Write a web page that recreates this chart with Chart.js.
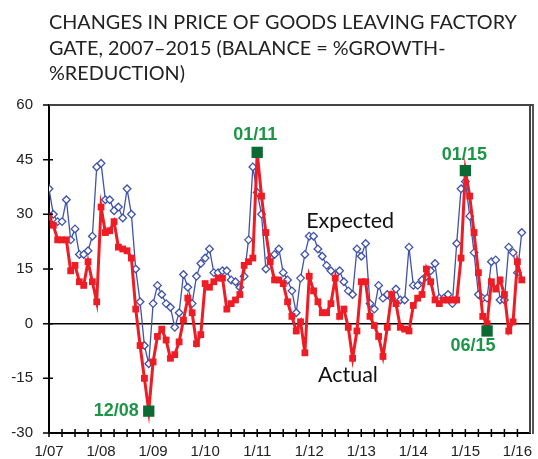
<!DOCTYPE html>
<html>
<head>
<meta charset="utf-8">
<script src="https://cdn.jsdelivr.net/npm/chart.js@4.4.1/dist/chart.umd.min.js"></script>
<style>
  html, body { margin: 0; padding: 0; background: #fff; }
  #wrap { width: 538px; height: 459px; position: relative; }
  #frame {
    position: absolute; left: 49px; top: 104px; width: 485px; height: 330px;
    box-sizing: border-box; border-top: 2px solid #444; border-right: 2px solid #555;
    pointer-events: none;
  }
</style>
</head>
<body>
<div id="wrap"><canvas id="chart"></canvas><div id="frame"></div></div>
<script>
// yearly labels, one per January (month index 0, 12, 24 ...)
const tickLabels = ['1/07', '1/08', '1/09', '1/10', '1/11', '1/12', '1/13', '1/14', '1/15', '1/16'];

// monthly balances, Jan 2007 .. Feb 2016
const expected = [
  37, 30, 28, 28, 34, 23, 26, 19, 19, 20, 24, 43,
  44, 34, 34, 31, 32, 29, 37, 30, 15, 6, -6, -11,
  5.5, 10.5, 8, 5.5, 4.5, -1, 3, 13.5, 10, 5.5, 13, 16.5,
  18, 20.5, 14, 14, 14.5, 14.5, 12, 11.5, 10, 13, 23, 43,
  36, 30, 15, 18, 19, 20.5, 14, 12, 9, 3, 12.5, 19,
  24, 24, 20.5, 18.5, 16, 14.5, 13.5, 14.5, 11.5, 9, 8, 20.5,
  18.5, 22, 5.5, 4, 10.5, 7, 8, 7, 9.5, 6.5, 6.5, 21,
  10.5, 10.5, 12, 13, 14.5, 16.5, 7, 7, 8, 5.5, 22, 37,
  39, 29.5, 19.5, 8, 7, 7, 17, 17.5, 6.5, 6.5, 21, 19.5,
  14, 25
];
const actual = [
  29.5, 27, 23, 23, 23, 14.5, 16, 11.5, 10.5, 17, 11.5, 6,
  32, 25, 25.5, 28, 21, 20.5, 20, 18, 4, -6, -15, -24,
  -10.5, -3.5, -1.5, -4.5, -9.5, -8.5, -5, 1, 7, 3, -5.5, -3,
  11, 10, 11.5, 12.5, 12.5, 4, 5.5, 6.5, 8, 16, 17, 18,
  47, 35, 25, 17, 12, 12, 11, 6, 2, -2, 0.5, -8,
  13, 9, 6, 3, 3, 5.5, 12.5, 2, 4, -1, -9.5, -2,
  11.5, 11.5, 2, -0.5, -3.5, -9, -1, 8, 5.5, -1, -1.5, -2,
  5, 7, 8, 15, 11.5, 6.5, 5.5, 6.5, 6.5, 6.5, 6.5, 18,
  42, 35, 25, 14, 2, 0, 11.5, 9.5, 12, 8, -2, 0.5,
  17, 12
];

// highlighted months
const markerIdx = [23, 48, 96, 101];
const markerVals = [-24, 47, 42, -2];
const markerText = ['12/08', '01/11', '01/15', '06/15'];

const titleLines = [
  'CHANGES IN PRICE OF GOODS LEAVING FACTORY',
  'GATE, 2007\u20132015 (BALANCE = %GROWTH-',
  '%REDUCTION)'
];

const BLUE = '#3f52ac';
const RED = '#ee1c24';
const GREEN_BOX = '#0b6a31';
const GREEN_TXT = '#1c9646';
const FRAME = '#444';
const TEXT_FAMILY = 'Lato, "Open Sans", sans-serif';
const AXIS_FAMILY = '"Liberation Sans", Arial, sans-serif';

function fitSize(text, family, width) {
  const c = document.createElement('canvas').getContext('2d');
  c.font = '100px ' + family;
  return 100 * width / c.measureText(text).width;
}
const titleSize = fitSize(titleLines[0], TEXT_FAMILY, 468);
const noteSize = fitSize('Expected', TEXT_FAMILY, 88);

// label placement for the green markers
const markerLabelPos = [
  { dx: -10, dy: 0, align: 'right' },
  { dx: -2, dy: -17, align: 'center' },
  { dx: -1, dy: -16, align: 'center' },
  { dx: -14, dy: 15, align: 'center' }
];

// frame, crossing ticks, text notes and marker labels
const decorPlugin = {
  id: 'decor',
  afterDatasetsDraw(chart) {
    const c = chart.ctx;
    const a = chart.chartArea;
    const x = chart.scales.x;
    const y = chart.scales.y;
    c.save();

    c.strokeStyle = FRAME;
    c.lineWidth = 2;
    c.beginPath();
    c.moveTo(a.left, a.top);
    c.lineTo(a.right, a.top);
    c.lineTo(a.right, a.bottom);
    c.stroke();

    c.strokeStyle = '#000';
    c.lineWidth = 1.5;
    c.beginPath();
    y.ticks.forEach(t => {
      const py = y.getPixelForValue(t.value);
      c.moveTo(a.left - 6, py);
      c.lineTo(a.left + 4, py);
    });
    x.ticks.forEach(t => {
      const px = x.getPixelForValue(t.value);
      c.moveTo(px, a.bottom - 4);
      c.lineTo(px, a.bottom + 4);
    });
    c.stroke();

    c.fillStyle = '#111';
    c.font = noteSize + 'px ' + TEXT_FAMILY;
    c.textAlign = 'left';
    c.textBaseline = 'alphabetic';
    c.fillText('Expected', x.getPixelForValue(59.3), y.getPixelForValue(26.3));
    c.fillText('Actual', x.getPixelForValue(62), y.getPixelForValue(-16));

    c.fillStyle = GREEN_TXT;
    c.font = 'bold 18px ' + AXIS_FAMILY;
    c.textBaseline = 'middle';
    markerIdx.forEach((m, i) => {
      const p = markerLabelPos[i];
      c.textAlign = p.align;
      c.fillText(markerText[i], x.getPixelForValue(m) + p.dx, y.getPixelForValue(markerVals[i]) + p.dy);
    });
    c.restore();
  }
};

const ctx = document.getElementById('chart').getContext('2d');
new Chart(ctx, {
  type: 'line',
  data: {
    datasets: [
      {
        label: 'Markers',
        data: markerIdx.map((m, i) => ({ x: m, y: markerVals[i] })),
        showLine: false,
        pointStyle: 'rect',
        pointRadius: 8,
        pointBackgroundColor: GREEN_BOX,
        pointBorderColor: GREEN_BOX,
        pointBorderWidth: 0,
        order: 0
      },
      {
        label: 'Actual',
        data: actual.map((v, i) => ({ x: i, y: v })),
        borderColor: RED,
        borderWidth: 3,
        pointStyle: 'rect',
        pointRadius: 4.8,
        pointBackgroundColor: RED,
        pointBorderColor: RED,
        pointBorderWidth: 0,
        tension: 0,
        order: 1
      },
      {
        label: 'Expected',
        data: expected.map((v, i) => ({ x: i, y: v })),
        borderColor: BLUE,
        borderWidth: 1.3,
        pointStyle: 'rectRot',
        pointRadius: 3.8,
        pointBackgroundColor: '#fff',
        pointBorderColor: BLUE,
        pointBorderWidth: 1.3,
        tension: 0,
        order: 2
      }
    ]
  },
  options: {
    responsive: true,
    maintainAspectRatio: false,
    animation: false,
    layout: { padding: { left: 0, right: 5, top: 0, bottom: 0 } },
    plugins: {
      legend: { display: false },
      tooltip: { enabled: false },
      title: {
        display: true,
        text: titleLines,
        align: 'start',
        fullSize: false,
        color: '#222',
        font: { family: TEXT_FAMILY, size: titleSize, weight: 'normal', lineHeight: '25.5px' },
        padding: { top: 10, bottom: 18.5 }
      }
    },
    scales: {
      x: {
        type: 'linear',
        min: 0,
        max: 110.9,
        afterBuildTicks: s => {
          const t = [];
          for (let v = 0; v <= 108; v += 3) t.push({ value: v });
          s.ticks = t;
        },
        afterFit: s => {
          s.height = 26;
          s.paddingLeft = 0;
          s.paddingRight = 0;
        },
        ticks: {
          autoSkip: false,
          maxRotation: 0,
          padding: 10,
          color: '#222',
          font: { family: AXIS_FAMILY, size: 15 },
          callback: v => (v % 12 === 0 ? tickLabels[v / 12] : '')
        },
        grid: { display: false, drawTicks: false },
        border: { display: true, color: '#000', width: 2 }
      },
      y: {
        min: -30,
        max: 60,
        afterFit: s => { s.width = 49; },
        ticks: {
          stepSize: 15,
          padding: 16,
          color: '#222',
          font: { family: AXIS_FAMILY, size: 15 }
        },
        grid: {
          drawTicks: false,
          color: c => (c.tick && c.tick.value === 0 ? '#000' : 'rgba(0,0,0,0)'),
          lineWidth: 1.5
        },
        border: { display: true, color: '#000', width: 2 }
      }
    }
  },
  plugins: [decorPlugin]
});
</script>
</body>
</html>
